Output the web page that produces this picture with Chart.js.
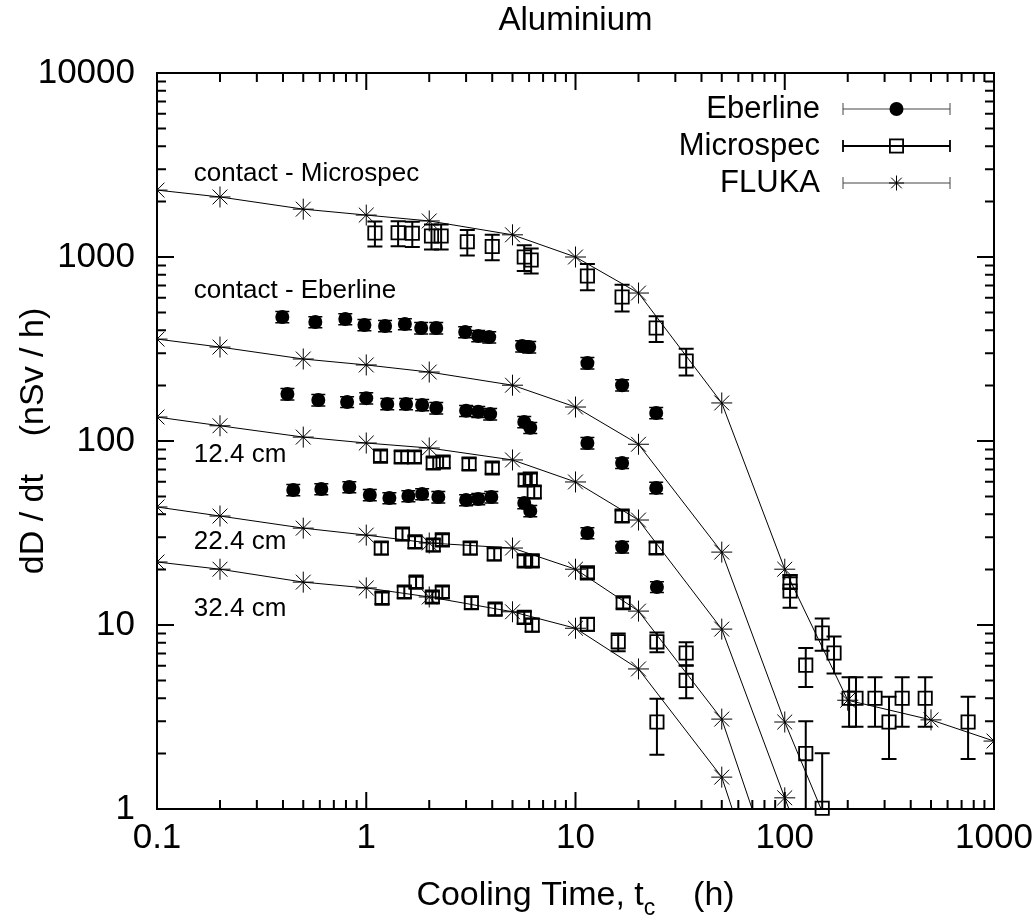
<!DOCTYPE html>
<html>
<head>
<meta charset="utf-8">
<title>Aluminium</title>
<script src="https://cdn.jsdelivr.net/npm/chart.js@4.4.0/dist/chart.umd.min.js"></script>
<style>
  html, body { margin: 0; padding: 0; background: #fff; }
</style>
</head>
<body>
<canvas id="myChart" width="1035" height="922"></canvas>
<script>
const FONT = '"Liberation Sans", Arial, Helvetica, sans-serif';

// FLUKA calculation - one time grid, five curves (contact Microspec, contact Eberline, 12.4, 22.4, 32.4 cm)
const flukaTime = [0.1, 0.2, 0.5, 1, 2, 5, 10, 20, 50, 100, 200, 500, 1000];
const flukaContactMs = [2310, 2120, 1820, 1690, 1570, 1320, 1000, 637, 161, 20.1, 3.9, 3.05, 2.34];
const flukaContactEb = [358, 324, 279, 259, 237, 201, 153, 96, 24.9, 2.97, 0.45];
const fluka124 = [135, 121, 105, 97.5, 91.6, 78.9, 59.9, 37.2, 9.5, 1.15, 0.14];
const fluka224 = [43.8, 39.1, 33.6, 30.8, 27.9, 26.2, 20.1, 11.9, 3.08, 0.3];
const fluka324 = [22, 20.1, 17.1, 15.9, 14.2, 11.8, 9.6, 5.77, 1.49, 0.136];

// Eberline measurements (filled circles)
const ebContactT = [0.397, 0.571, 0.794, 0.98, 1.23, 1.53, 1.83, 2.16, 2.97, 3.43, 3.87, 5.56, 6.01, 11.4, 16.7, 24.3];
const ebContactV = [472, 443, 460, 427, 422, 432, 411, 411, 391, 372, 367, 328, 324, 265, 201, 142];
const ebContactE = [33, 31, 32, 30, 30, 30, 29, 29, 27, 26, 26, 23, 23, 19, 14, 10];
const ebMidT = [0.42, 0.59, 0.81, 1.0, 1.26, 1.55, 1.85, 2.16, 3.0, 3.43, 3.91, 5.69, 6.08, 11.4, 16.7, 24.3];
const ebMidV = [180, 167, 163, 171, 159, 159, 157, 151, 146, 144, 140, 127, 118, 97.5, 75.9, 55.6];
const ebMidE = [13, 12, 11, 12, 11, 11, 11, 11, 10, 10, 10, 9, 8, 7, 5, 4];
const ebLowT = [0.448, 0.61, 0.83, 1.04, 1.29, 1.59, 1.85, 2.21, 3.0, 3.43, 3.96, 5.69, 6.08, 11.4, 16.7, 24.5];
const ebLowV = [54.2, 54.8, 56.2, 50.9, 49, 50.2, 51.5, 49.6, 47.8, 48.4, 49.6, 46, 41.7, 31.6, 26.5, 16.1];
const ebLowE = [3.8, 3.8, 3.9, 3.6, 3.4, 3.5, 3.6, 3.5, 3.3, 3.4, 3.5, 3.2, 2.9, 2.2, 1.9, 1.1];

// Microspec measurements (open squares)
const msContactT = [1.10, 1.42, 1.66, 2.05, 2.28, 3.04, 4.0, 5.69, 6.14, 11.4, 16.7, 24.3, 33.8, 106, 106, 151, 172, 203, 219, 270, 315, 364, 469, 752];
const msContactV = [1350, 1355, 1345, 1300, 1300, 1210, 1140, 1000, 963, 788, 606, 411, 272, 17.2, 15.3, 9.05, 7.05, 4.0, 4.0, 4.0, 2.97, 4.0, 4.0, 2.97];
const msContactE = [210, 210, 210, 200, 200, 190, 180, 160, 150, 128, 100, 66, 45, 1.5, 2.9, 1.8, 1.6, 1.2, 1.2, 1.2, 1.1, 1.2, 1.2, 1.1];
const ms124T = [1.17, 1.47, 1.70, 2.09, 2.33, 3.1, 4.0, 5.75, 6.08, 6.35, 16.7, 24.3, 33.8, 126];
const ms124V = [82.8, 81.9, 81.9, 75.9, 76.9, 75, 71.3, 61.4, 62.1, 52.8, 39.1, 26.2, 7.05, 6.05];
const ms124E = [6, 6, 6, 5.5, 5.5, 5.5, 5, 4.5, 4.5, 4, 2.8, 1.9, 1.0, 1.45];
const ms224T = [1.18, 1.49, 1.71, 2.09, 2.31, 3.14, 4.09, 5.69, 6.21, 11.4, 16.9, 24.5, 33.8, 126];
const ms224V = [26.2, 31.2, 28.3, 27.2, 29, 26.2, 24.3, 22.3, 22.3, 19.2, 13.2, 8.1, 5.0, 2.0];
const ms224E = [2, 2.3, 2.1, 2, 2.1, 2, 1.8, 1.6, 1.6, 1.3, 0.9, 1.0, 1.0, 1.0];
const ms324T = [1.19, 1.52, 1.73, 2.07, 2.31, 3.18, 4.13, 5.69, 6.21, 11.4, 16.0, 24.5, 151];
const ms324V = [14.0, 15.1, 17.1, 14.2, 15.1, 13.2, 12.2, 11.0, 10.0, 10.1, 8.1, 2.97, 1.01];
const ms324E = [1.0, 1.1, 1.2, 1.0, 1.1, 1.0, 0.9, 0.8, 0.8, 0.8, 0.9, 1.0, 1.0];

const xTicks = [0.1, 1, 10, 100, 1000];
const yTicks = [1, 10, 100, 1000, 10000];
const legendNames = ["Eberline", "Microspec", "FLUKA"];

// curve labels, anchored in data coordinates (left edge, baseline)
const curveLabels = [
  { text: "contact - Microspec", t: 0.15, v: 2590 },
  { text: "contact - Eberline", t: 0.15, v: 598 },
  { text: "12.4 cm", t: 0.15, v: 76.9 },
  { text: "22.4 cm", t: 0.15, v: 25.9 },
  { text: "32.4 cm", t: 0.15, v: 11.2 },
];

function pts(t, v, e) {
  return v.map((y, i) => ({ x: t[i], y: y, e: e ? e[i] : 0 }));
}

const datasets = [];
[flukaContactMs, flukaContactEb, fluka124, fluka224, fluka324].forEach(function (v) {
  datasets.push({
    label: "FLUKA",
    data: pts(flukaTime, v),
    showLine: true,
    borderColor: "#000",
    borderWidth: 1,
    pointStyle: "star",
    pointRadius: 10.5,
    pointBorderWidth: 1,
    pointBorderColor: "#000",
    order: 0,
  });
});
[[ebContactT, ebContactV, ebContactE], [ebMidT, ebMidV, ebMidE], [ebLowT, ebLowV, ebLowE]].forEach(function (s) {
  datasets.push({
    label: "Eberline",
    data: pts(s[0], s[1], s[2]),
    showLine: false,
    pointStyle: "circle",
    pointRadius: 7,
    pointBorderWidth: 0,
    pointBackgroundColor: "#000",
    errorBars: { width: 1.5, cap: 7 },
    order: 2,
  });
});
[[msContactT, msContactV, msContactE], [ms124T, ms124V, ms124E], [ms224T, ms224V, ms224E], [ms324T, ms324V, ms324E]].forEach(function (s) {
  datasets.push({
    label: "Microspec",
    data: pts(s[0], s[1], s[2]),
    showLine: false,
    pointStyle: "rect",
    pointRadius: 9.4,
    pointBorderWidth: 1.8,
    pointBorderColor: "#000",
    pointBackgroundColor: "rgba(0,0,0,0)",
    errorBars: { width: 2, cap: 7.5 },
    clip: false,
    order: 1,
  });
});

function drawStar(ctx, x, y, r) {
  const d = r * Math.SQRT1_2;
  ctx.beginPath();
  ctx.moveTo(x - r, y); ctx.lineTo(x + r, y);
  ctx.moveTo(x, y - r); ctx.lineTo(x, y + r);
  ctx.moveTo(x - d, y - d); ctx.lineTo(x + d, y + d);
  ctx.moveTo(x - d, y + d); ctx.lineTo(x + d, y - d);
  ctx.stroke();
}

const gnuplotLook = {
  id: "gnuplotLook",
  beforeDatasetsDraw(chart) {
    const { ctx, chartArea: a } = chart;
    const y = chart.scales.y;
    ctx.save();
    ctx.beginPath();
    ctx.rect(a.left, a.top, a.right - a.left, a.bottom - a.top);
    ctx.clip();
    ctx.strokeStyle = "#000";
    chart.data.datasets.forEach(function (ds, i) {
      if (!ds.errorBars) return;
      const meta = chart.getDatasetMeta(i);
      const cap = ds.errorBars.cap;
      ctx.lineWidth = ds.errorBars.width;
      ds.data.forEach(function (p, j) {
        const px = meta.data[j].x;
        const top = y.getPixelForValue(p.y + p.e);
        const bot = p.y - p.e > 0 ? y.getPixelForValue(p.y - p.e) : a.bottom + 20;
        ctx.beginPath();
        ctx.moveTo(px, top); ctx.lineTo(px, bot);
        ctx.moveTo(px - cap, top); ctx.lineTo(px + cap, top);
        ctx.moveTo(px - cap, bot); ctx.lineTo(px + cap, bot);
        ctx.stroke();
      });
    });
    ctx.restore();
  },
  afterDraw(chart) {
    const { ctx, chartArea: a } = chart;
    const xs = chart.scales.x, ys = chart.scales.y;
    ctx.save();
    ctx.strokeStyle = "#000";
    ctx.fillStyle = "#000";

    // border and inward ticks on all four sides
    ctx.lineWidth = 2;
    ctx.strokeRect(a.left, a.top, a.right - a.left, a.bottom - a.top);
    ctx.beginPath();
    for (let d = -1; d < 3; d++) {
      for (let k = 1; k < 10; k++) {
        const px = xs.getPixelForValue(k * Math.pow(10, d));
        const len = k === 1 ? 17 : 9;
        ctx.moveTo(px, a.bottom); ctx.lineTo(px, a.bottom - len);
        ctx.moveTo(px, a.top); ctx.lineTo(px, a.top + len);
      }
    }
    for (let d = 0; d < 4; d++) {
      for (let k = 1; k < 10; k++) {
        const py = ys.getPixelForValue(k * Math.pow(10, d));
        const len = k === 1 ? 17 : 9;
        ctx.moveTo(a.left, py); ctx.lineTo(a.left + len, py);
        ctx.moveTo(a.right, py); ctx.lineTo(a.right - len, py);
      }
    }
    ctx.stroke();

    // title
    ctx.font = "33px " + FONT;
    ctx.textAlign = "center";
    ctx.textBaseline = "alphabetic";
    ctx.fillText("Aluminium", (a.left + a.right) / 2, 30);

    // y axis title
    ctx.save();
    ctx.translate(34, (a.top + a.bottom) / 2);
    ctx.rotate(-Math.PI / 2);
    ctx.font = "34px " + FONT;
    ctx.textBaseline = "middle";
    ctx.fillText("dD / dt    (nSv / h)", 0, 0);
    ctx.restore();

    // x axis title with subscript
    const t1 = "Cooling Time, t", t2 = "c", t3 = "    (h)";
    ctx.font = "34px " + FONT;
    const w1 = ctx.measureText(t1).width, w3 = ctx.measureText(t3).width;
    ctx.font = "23px " + FONT;
    const w2 = ctx.measureText(t2).width;
    let sx = (a.left + a.right) / 2 - (w1 + w2 + w3) / 2;
    ctx.textAlign = "left";
    ctx.font = "34px " + FONT;
    ctx.fillText(t1, sx, 905);
    ctx.font = "23px " + FONT;
    ctx.fillText(t2, sx + w1, 915);
    ctx.font = "34px " + FONT;
    ctx.fillText(t3, sx + w1 + w2, 905);

    // curve labels
    ctx.font = "26px " + FONT;
    curveLabels.forEach(function (l) {
      ctx.fillText(l.text, xs.getPixelForValue(l.t), ys.getPixelForValue(l.v));
    });

    // legend, gnuplot style: sample error bar with marker
    const lx0 = a.right - 151, lx1 = a.right - 44, lxm = (lx0 + lx1) / 2;
    ctx.font = "31px " + FONT;
    ctx.textAlign = "right";
    ctx.textBaseline = "middle";
    legendNames.forEach(function (name, i) {
      const ly = a.top + 36 + i * 37;
      ctx.fillStyle = "#000";
      ctx.fillText(name, a.right - 174, ly);
      ctx.strokeStyle = name === "Microspec" ? "#000" : "#444";
      ctx.lineWidth = name === "Microspec" ? 1.8 : 1;
      ctx.beginPath();
      ctx.moveTo(lx0, ly); ctx.lineTo(lx1, ly);
      ctx.moveTo(lx0, ly - 6); ctx.lineTo(lx0, ly + 6);
      ctx.moveTo(lx1, ly - 6); ctx.lineTo(lx1, ly + 6);
      ctx.stroke();
      ctx.strokeStyle = "#000";
      if (name === "Eberline") {
        ctx.beginPath();
        ctx.arc(lxm, ly, 7, 0, Math.PI * 2);
        ctx.fill();
      } else if (name === "Microspec") {
        ctx.lineWidth = 1.8;
        ctx.strokeRect(lxm - 6.6, ly - 6.6, 13.2, 13.2);
      } else {
        ctx.lineWidth = 1;
        drawStar(ctx, lxm, ly, 7.5);
      }
    });
    ctx.restore();
  },
};

const ctx = document.getElementById("myChart").getContext("2d");
const myChart = new Chart(ctx, {
  type: "scatter",
  data: { datasets: datasets },
  options: {
    responsive: false,
    devicePixelRatio: 1,
    animation: false,
    layout: { padding: { left: 0, right: 41, top: 73, bottom: 0 } },
    plugins: {
      legend: { display: false },
      tooltip: { enabled: false },
      title: { display: false },
    },
    scales: {
      x: {
        type: "logarithmic",
        position: "bottom",
        min: 0.1,
        max: 1000,
        grid: { display: false, drawTicks: false },
        border: { display: false },
        afterBuildTicks: function (scale) {
          scale.ticks = xTicks.map(function (v) { return { value: v }; });
        },
        afterFit: function (scale) {
          scale.height = 113;
          scale.paddingLeft = 0;
          scale.paddingRight = 0;
        },
        ticks: {
          autoSkip: false,
          maxRotation: 0,
          padding: 8,
          color: "#000",
          font: { family: FONT, size: 35 },
          callback: function (v) { return String(v); },
        },
      },
      y: {
        type: "logarithmic",
        position: "left",
        min: 1,
        max: 10000,
        grid: { display: false, drawTicks: false },
        border: { display: false },
        afterBuildTicks: function (scale) {
          scale.ticks = yTicks.map(function (v) { return { value: v }; });
        },
        afterFit: function (scale) {
          scale.width = 157;
          scale.paddingTop = 0;
          scale.paddingBottom = 0;
        },
        ticks: {
          autoSkip: false,
          padding: 22,
          color: "#000",
          font: { family: FONT, size: 35 },
          callback: function (v) { return String(v); },
        },
      },
    },
  },
  plugins: [gnuplotLook],
});
</script>
</body>
</html>
